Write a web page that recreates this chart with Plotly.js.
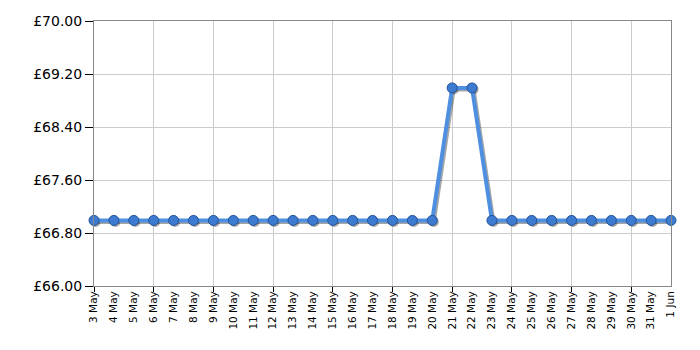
<!DOCTYPE html>
<html><head><meta charset="utf-8">
<script src="https://cdn.plot.ly/plotly-3.0.1.min.js"></script>
<style>body{margin:0;background:#fff}#c{width:700px;height:350px}</style>
</head><body><div id="c"></div>
<script>
const dates = ["3 May","4 May","5 May","6 May","7 May","8 May","9 May","10 May","11 May","12 May","13 May","14 May","15 May","16 May","17 May","18 May","19 May","20 May","21 May","22 May","23 May","24 May","25 May","26 May","27 May","28 May","29 May","30 May","31 May","1 Jun"];
const prices = [66.99,66.99,66.99,66.99,66.99,66.99,66.99,66.99,66.99,66.99,66.99,66.99,66.99,66.99,66.99,66.99,66.99,66.99,68.99,68.99,66.99,66.99,66.99,66.99,66.99,66.99,66.99,66.99,66.99,66.99];
const yTicks = [66.00,66.80,67.60,68.40,69.20,70.00];

const idx = dates.map((d,i)=>i);
const gridIdx = idx.filter(i=>i%3===0);
const font = "DejaVu Sans";

const pxPerX = 577/29, pxPerY = 265/4;
const dx = 1.5/pxPerX, dy = 1.5/pxPerY;

const traces = [
  {x: idx, y: prices, mode:'markers', marker:{opacity:0}, hoverinfo:'skip'},
  {x: idx, y: prices, xaxis:'x2', mode:'markers', marker:{opacity:0}, hoverinfo:'skip'},
  {x: idx, y: prices, xaxis:'x3', yaxis:'y3', mode:'lines+markers', cliponaxis:false, hoverinfo:'skip',
   line:{color:'rgba(0,0,0,0.35)', width:4}, marker:{size:10, color:'rgba(0,0,0,0.35)'}},
  {x: idx, y: prices, xaxis:'x4', yaxis:'y4', mode:'lines+markers', cliponaxis:false,
   line:{color:'#4f8fe0', width:4},
   marker:{size:10, color:'#3d7bd0', line:{color:'#23549a', width:1}}}
];

const layout = {
  width:700, height:350,
  margin:{l:94, r:29, t:21, b:64},
  paper_bgcolor:'#fff', plot_bgcolor:'#fff',
  showlegend:false,
  font:{family:font},
  xaxis:{range:[0,29], tickvals: idx, ticktext: dates, tickangle:-90,
    showgrid:false, zeroline:false, ticks:'', showline:true, linecolor:'#888', linewidth:1, mirror:true,
    tickfont:{family:font, size:10.5, color:'#000'}},
  xaxis2:{range:[0,29], overlaying:'x', tickvals: gridIdx, showticklabels:false,
    showgrid:true, gridcolor:'#cccccc', ticks:'outside', ticklen:5, tickcolor:'#000', zeroline:false, side:'bottom'},
  yaxis:{range:[66,70], tickvals: yTicks, ticktext: yTicks.map(v=>'£'+v.toFixed(2)),
    showgrid:true, gridcolor:'#cccccc', zeroline:false, ticks:'outside', ticklen:8, tickcolor:'#000',
    showline:true, linecolor:'#888', linewidth:1, mirror:true,
    tickfont:{family:font, size:14, color:'#000'}},
  xaxis3:{range:[-dx,29-dx], overlaying:'x', visible:false},
  yaxis3:{range:[66+dy,70+dy], overlaying:'y', visible:false},
  xaxis4:{range:[0,29], overlaying:'x', visible:false},
  yaxis4:{range:[66,70], overlaying:'y', visible:false}
};
Plotly.newPlot('c', traces, layout, {displayModeBar:false, staticPlot:true});
</script></body></html>
